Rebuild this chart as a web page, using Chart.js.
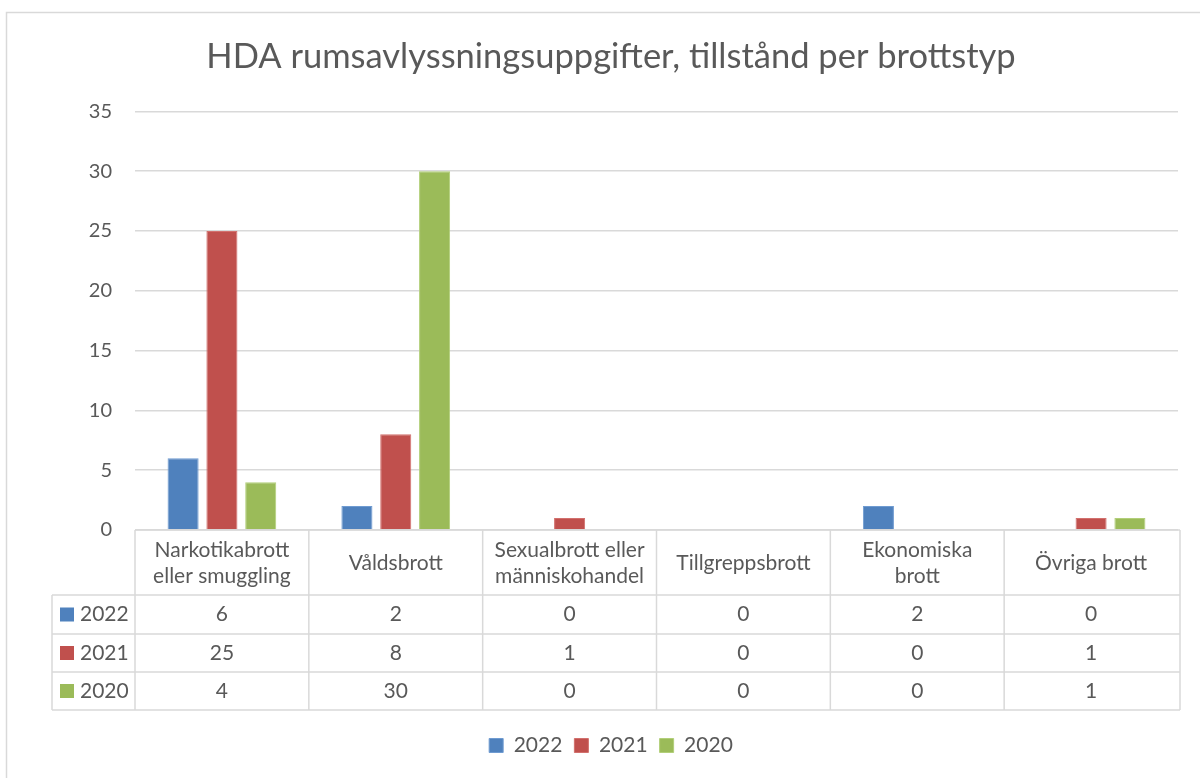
<!DOCTYPE html>
<html>
<head>
<meta charset="utf-8">
<script src="https://cdn.jsdelivr.net/npm/chart.js@4/dist/chart.umd.min.js"></script>
<style>
  html, body { margin: 0; padding: 0; background: #fff; }
  #wrap { width: 1200px; height: 778px; }
</style>
</head>
<body>
<div id="wrap"><canvas id="brottChart" width="1200" height="778"></canvas></div>
<script>
const categories = [
  ['Narkotikabrott', 'eller smuggling'],
  ['Våldsbrott'],
  ['Sexualbrott eller', 'människohandel'],
  ['Tillgreppsbrott'],
  ['Ekonomiska', 'brott'],
  ['Övriga brott']
];
const years = ['2022', '2021', '2020'];
const values2022 = [6, 2, 0, 0, 2, 0];
const values2021 = [25, 8, 1, 0, 0, 1];
const values2020 = [4, 30, 0, 0, 0, 1];
const yMax = 35;
const yStep = 5;

const FONT = 'Lato, "Open Sans", sans-serif';
const TEXT = '#595959';
const LINE = '#d9d9d9';
const colors = ['#4f81bd', '#c0504d', '#9bbb59'];
const edges = ['#6f9bd1', '#d2706d', '#b2cf79'];

// data table under the plot, drawn with the x scale's column positions
const dataTable = {
  id: 'dataTable',
  beforeDraw(chart) {
    const ctx = chart.ctx;
    ctx.save();
    ctx.strokeStyle = LINE;
    ctx.lineWidth = 1.5;
    ctx.strokeRect(6.5, 12.5, 1210, 790);
    ctx.restore();
  },
  afterDraw(chart) {
    const ctx = chart.ctx;
    const x = chart.scales.x;
    const area = chart.chartArea;
    const half = (x.getPixelForValue(1) - x.getPixelForValue(0)) / 2;
    const top = area.bottom;
    const rowY = [top, top + 65, top + 104, top + 142, top + 180];
    const keyLeft = 52;
    const right = area.right + 2;
    const series = [values2022, values2021, values2020];

    ctx.save();
    ctx.strokeStyle = LINE;
    ctx.lineWidth = 1.5;
    ctx.beginPath();
    ctx.moveTo(area.left, rowY[0]); ctx.lineTo(right, rowY[0]);
    for (let r = 1; r < rowY.length; r++) {
      ctx.moveTo(keyLeft, rowY[r]); ctx.lineTo(right, rowY[r]);
    }
    ctx.moveTo(keyLeft, rowY[1]); ctx.lineTo(keyLeft, rowY[4]);
    ctx.moveTo(area.left, rowY[0]); ctx.lineTo(area.left, rowY[4]);
    categories.forEach((c, i) => {
      const b = i === categories.length - 1 ? right : x.getPixelForValue(i) + half;
      ctx.moveTo(b, rowY[0]); ctx.lineTo(b, rowY[4]);
    });
    ctx.stroke();

    ctx.fillStyle = TEXT;
    ctx.font = '21px ' + FONT;
    ctx.textAlign = 'center';
    ctx.textBaseline = 'middle';
    const headMid = (rowY[0] + rowY[1]) / 2 + 1;
    categories.forEach((lines, i) => {
      const cx = x.getPixelForValue(i);
      const lh = 26;
      lines.forEach((t, k) => {
        ctx.fillText(t, cx, headMid + (k - (lines.length - 1) / 2) * lh);
      });
    });

    series.forEach((vals, r) => {
      const cy = (rowY[r + 1] + rowY[r + 2]) / 2;
      ctx.textAlign = 'center';
      ctx.fillStyle = TEXT;
      vals.forEach((v, i) => ctx.fillText(String(v), x.getPixelForValue(i), cy));
      ctx.fillStyle = colors[r];
      ctx.fillRect(60, cy - 7, 14, 14);
      ctx.fillStyle = TEXT;
      ctx.textAlign = 'left';
      ctx.fillText(years[r], 80, cy);
    });
    ctx.restore();
  }
};

new Chart(document.getElementById('brottChart'), {
  type: 'bar',
  data: {
    labels: categories,
    datasets: [
      { label: years[0], data: values2022 },
      { label: years[1], data: values2021 },
      { label: years[2], data: values2020 }
    ].map((d, i) => Object.assign(d, {
      backgroundColor: colors[i],
      borderColor: edges[i],
      borderWidth: 1,
      categoryPercentage: 0.67,
      barPercentage: 0.8
    }))
  },
  options: {
    responsive: false,
    devicePixelRatio: 1,
    animation: false,
    layout: { padding: { left: 44, right: 22, top: 0, bottom: 12 } },
    scales: {
      x: {
        ticks: { display: false },
        grid: { display: false },
        border: { display: false },
        afterFit(scale) { scale.height = 193; }
      },
      y: {
        min: 0,
        max: yMax,
        ticks: { stepSize: yStep, color: TEXT, font: { family: FONT, size: 20 }, padding: 23 },
        grid: { color: LINE, lineWidth: 1.5, drawTicks: false },
        border: { display: false },
        afterFit(scale) { scale.width = 91; }
      }
    },
    plugins: {
      title: {
        display: true,
        text: 'HDA rumsavlyssningsuppgifter, tillstånd per brottstyp',
        color: TEXT,
        font: { family: FONT, size: 34.5, weight: 'normal' },
        padding: { top: 36, bottom: 34 }
      },
      legend: {
        position: 'bottom',
        labels: {
          color: TEXT,
          font: { family: FONT, size: 21 },
          boxWidth: 14,
          boxHeight: 14,
          padding: 12
        }
      },
      tooltip: { enabled: false }
    }
  },
  plugins: [dataTable]
});
</script>
</body>
</html>
